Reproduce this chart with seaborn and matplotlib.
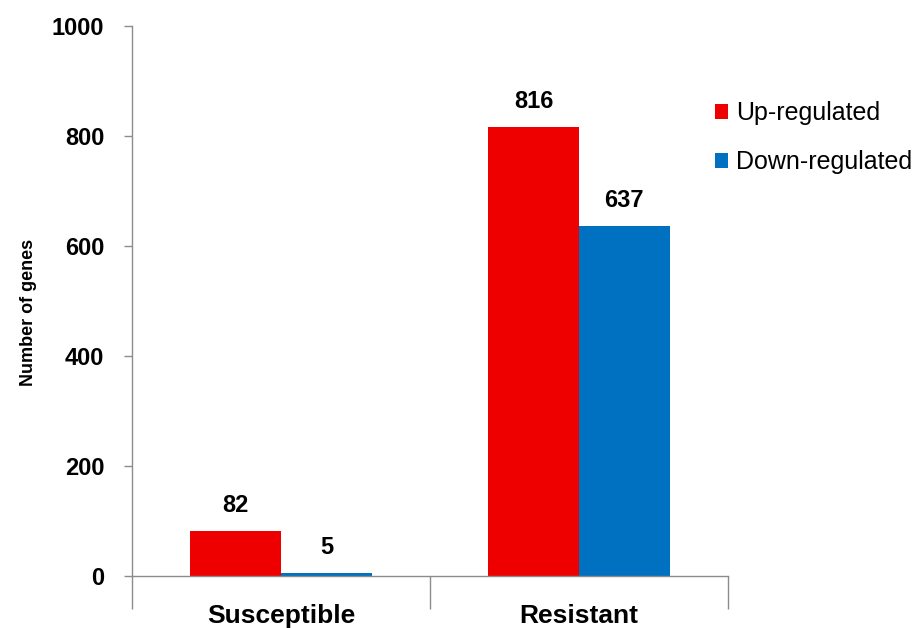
import matplotlib
matplotlib.use("Agg")
import matplotlib.pyplot as plt
import seaborn as sns
import pandas as pd
from matplotlib.ticker import FixedLocator

groups = ["Susceptible", "Resistant"]
regulation = ["Up-regulated", "Down-regulated"]
up_values = [82, 816]
down_values = [5, 637]
yticks = [0, 200, 400, 600, 800, 1000]
colors = ["#EE0000", "#0070C0"]

df = pd.DataFrame({
    "group": groups * 2,
    "regulation": [regulation[0]] * 2 + [regulation[1]] * 2,
    "count": up_values + down_values,
})

sns.set_theme(style="white")
plt.rcParams["font.family"] = ["Liberation Sans", "DejaVu Sans"]

fig = plt.figure(figsize=(9.21, 6.28), dpi=100)
ax = fig.add_axes([0.1433, 0.0828, 0.6470, 0.8758])

sns.barplot(data=df, x="group", y="count", hue="regulation", order=groups,
            hue_order=regulation, palette=colors, width=0.61, saturation=1,
            edgecolor="none", linewidth=0, ax=ax)

for cont in ax.containers:
    ax.bar_label(cont, labels=[f"{int(v)}" for v in cont.datavalues],
                 padding=10, fontsize=17, fontweight="bold", color="black")

ax.set_xlim(-0.5, 1.5)
ax.set_ylim(0, 1000)
ax.set_yticks(yticks)
ax.set_yticklabels([str(v) for v in yticks], fontsize=17, fontweight="bold", color="black")
ax.set_xticks([0, 1])
ax.set_xticklabels(groups, fontsize=19, fontweight="bold", color="black")
ax.xaxis.set_minor_locator(FixedLocator([-0.5, 0.5, 1.5]))
ax.tick_params(axis="x", which="major", length=0, pad=20)
ax.tick_params(axis="x", which="minor", length=24, width=1, color="#8c8c8c", direction="out", bottom=True)
ax.tick_params(axis="y", which="major", length=6, width=1, color="#8c8c8c", direction="out", left=True, pad=14)

ax.set_xlabel("")
ax.set_ylabel("Number of genes", fontsize=13, fontweight="bold", color="black")
ax.yaxis.set_label_coords(-0.159, 0.48)

for s in ["top", "right"]:
    ax.spines[s].set_visible(False)
for s in ["left", "bottom"]:
    ax.spines[s].set_color("#8c8c8c")
    ax.spines[s].set_linewidth(1)

ax.legend_.remove()
handles, labels = ax.get_legend_handles_labels()
leg = fig.legend(handles, labels, loc="upper left", bbox_to_anchor=(0.765, 0.855),
                 frameon=False, fontsize=18, handlelength=0.55, handleheight=0.55,
                 handletextpad=0.3, labelspacing=1.0, borderaxespad=0)
for t in leg.get_texts():
    t.set_color("black")

fig.savefig("out.png", dpi=100, facecolor="white")
